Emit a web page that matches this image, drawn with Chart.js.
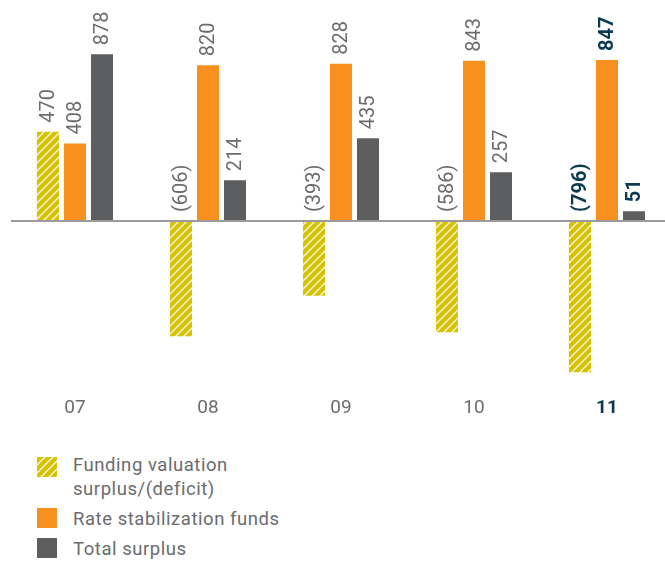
<!DOCTYPE html>
<html>
<head>
<meta charset="utf-8">
<script src="https://cdn.jsdelivr.net/npm/chart.js@4/dist/chart.umd.min.js"></script>
<style>
  html, body { margin: 0; padding: 0; background: #fff; overflow: hidden; }
  body { width: 665px; height: 562px; position: relative; font-family: Roboto, "Liberation Sans", sans-serif; }
  #wrap { position: absolute; left: 0; top: 0; width: 680px; height: 440px; }
  .legend { position: absolute; left: 37px; color: #6b6c6e; font-size: 18.5px; letter-spacing: 0.55px; line-height: 24px; }
  .legend .sw { position: absolute; left: 0; width: 20px; height: 20px; }
  .legend .tx { position: absolute; left: 36px; white-space: nowrap; }
</style>
</head>
<body>
<div id="wrap"><canvas id="chart" width="680" height="440"></canvas></div>
<div class="legend" style="top:457px"><div class="sw" id="swHatch"></div></div>
<div class="legend" style="top:453px"><div class="tx">Funding valuation<br>surplus/(deficit)</div></div>
<div class="legend" style="top:508px"><div class="sw" style="background:#f7901e"></div></div>
<div class="legend" style="top:507px"><div class="tx" style="top:0">Rate stabilization funds</div></div>
<div class="legend" style="top:538px"><div class="sw" style="background:#5d5e60"></div></div>
<div class="legend" style="top:537px"><div class="tx" style="top:0">Total surplus</div></div>
<script>
(function () {
  'use strict';
  var years = ['07', '08', '09', '10', '11'];
  var fundingValuation = [470, -606, -393, -586, -796];
  var rateStabilization = [408, 820, 828, 843, 847];
  var totalSurplus = [878, 214, 435, 257, 51];

  var yellow = '#d5c200';
  var orange = '#f7901e';
  var dark = '#5d5e60';
  var textGray = '#6b6c6e';
  var highlight = '#0c3b50';
  var family = 'Roboto, "Liberation Sans", sans-serif';

  function hatch() {
    var c = document.createElement('canvas');
    c.width = 8; c.height = 8;
    var g = c.getContext('2d');
    g.fillStyle = yellow;
    g.fillRect(0, 0, 8, 8);
    g.strokeStyle = 'rgba(255,255,255,0.9)';
    g.lineWidth = 1.3;
    g.beginPath();
    g.moveTo(0, 8); g.lineTo(8, 0);
    g.moveTo(-1, 1); g.lineTo(1, -1);
    g.moveTo(7, 9); g.lineTo(9, 7);
    g.stroke();
    return c;
  }
  var tile = hatch();
  var pattern = document.createElement('canvas').getContext('2d').createPattern(tile, 'repeat');
  document.getElementById('swHatch').style.background = 'url(' + tile.toDataURL() + ')';

  function fmt(v) { return v < 0 ? '(' + Math.abs(v) + ')' : String(v); }

  var labelPlugin = {
    id: 'labels',
    afterDatasetsDraw: function (chart) {
      var ctx = chart.ctx;
      var y = chart.scales.y, x = chart.scales.x;
      var zero = y.getPixelForValue(0);
      ctx.save();
      ctx.strokeStyle = '#9b9b9b';
      ctx.lineWidth = 2;
      ctx.beginPath();
      ctx.moveTo(11, zero);
      ctx.lineTo(680, zero);
      ctx.stroke();

      chart.data.datasets.forEach(function (ds, di) {
        chart.getDatasetMeta(di).data.forEach(function (bar, i) {
          var v = ds.data[i];
          var last = i === years.length - 1;
          var base = v < 0 ? zero : bar.y;
          ctx.save();
          ctx.translate(bar.x, base - 9);
          ctx.rotate(-Math.PI / 2);
          ctx.fillStyle = last ? highlight : textGray;
          ctx.font = (last ? 'bold ' : '') + '20px ' + family;
          ctx.textAlign = 'left';
          ctx.textBaseline = 'middle';
          ctx.fillText(fmt(v), 0, 1);
          ctx.restore();
        });
      });

      years.forEach(function (yr, i) {
        var last = i === years.length - 1;
        ctx.fillStyle = last ? highlight : textGray;
        ctx.font = (last ? 'bold ' : '') + '19px ' + family;
        ctx.textAlign = 'center';
        ctx.textBaseline = 'middle';
        ctx.fillText(yr, x.getPixelForValue(i), 408);
      });
      ctx.restore();
    }
  };

  function draw() {
    new Chart(document.getElementById('chart'), {
      type: 'bar',
      data: {
        labels: years,
        datasets: [
          { label: 'Funding valuation surplus/(deficit)', data: fundingValuation, backgroundColor: pattern },
          { label: 'Rate stabilization funds', data: rateStabilization, backgroundColor: orange },
          { label: 'Total surplus', data: totalSurplus, backgroundColor: dark }
        ]
      },
      options: {
        responsive: false,
        animation: false,
        events: [],
        layout: { padding: { left: 8.5, right: 6.5, top: 31, bottom: 48 } },
        datasets: { bar: { categoryPercentage: 0.609, barPercentage: 0.815 } },
        scales: {
          x: { display: false },
          y: { display: false, min: -900, max: 1000 }
        },
        plugins: { legend: { display: false }, tooltip: { enabled: false } }
      },
      plugins: [labelPlugin]
    });
  }

  Promise.all([
    document.fonts.load('20px Roboto'),
    document.fonts.load('bold 20px Roboto')
  ]).then(draw, draw);
})();
</script>
</body>
</html>
